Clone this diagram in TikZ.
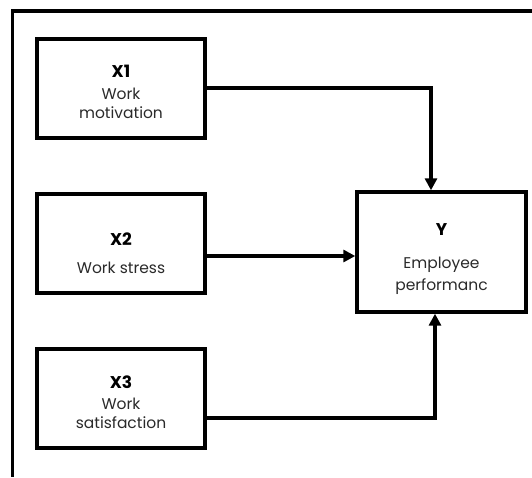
\documentclass[tikz,border=0pt]{standalone}
\usepackage{fontspec}
\setmainfont{Poppins}
\usetikzlibrary{arrows.meta}
\definecolor{txt}{HTML}{2A2A2A}
\newcommand{\vlab}[1]{{\fontsize{17}{19}\selectfont\bfseries\color{black}#1}}
\tikzset{
  box/.style={draw=black, line width=3.4pt, rectangle, inner sep=0pt, minimum width=168pt, minimum height=99pt},
  lbl/.style={align=center, inner sep=0pt, text=txt, font=\fontsize{15.5}{19}\selectfont},
  conn/.style={line width=3.6pt},
  arr/.style={conn, -{Triangle[length=12pt,width=12pt]}},
  frame/.style={line width=3.4pt}
}
\begin{document}
\begin{tikzpicture}[x=1pt,y=-1pt]
\useasboundingbox[fill=white] (0,0) rectangle (532,477);
\draw[frame] (532,11) -- (12.5,11) -- (12.5,477);
\node[box] (X1) at (121,88.5) {};
\node[box] (X2) at (121,243.5) {};
\node[box] (X3) at (121,398.5) {};
\node[box, minimum width=169pt, minimum height=120pt] (Y) at (441.5,252) {};
\node[lbl] (X1t) at ([yshift=-3pt]X1.center) {\vlab{X1}\\[3pt]Work\\[0pt]motivation};
\node[lbl] (X2t) at ([yshift=-10pt]X2.center) {\vlab{X2}\\[9pt]Work stress};
\node[lbl] (X3t) at ([yshift=-3.5pt]X3.center) {\vlab{X3}\\[2pt]Work\\[0pt]satisfaction};
\node[lbl] (Yt) at ([yshift=-7.5pt]Y.center) {\vlab{Y}\\[14pt]Employee\\[3pt]performanc};
\coordinate (c1) at (431,88);
\coordinate (c3) at (435,418);
\draw[arr] (X1.east |- c1) -- (c1) -- (c1 |- Y.north);
\draw[arr] ([yshift=-12.5pt]X2.east) -- ([yshift=-12.5pt]X2.east -| Y.west);
\draw[arr] (X3.east |- c3) -- (c3) -- (c3 |- Y.south);
\end{tikzpicture}
\end{document}
